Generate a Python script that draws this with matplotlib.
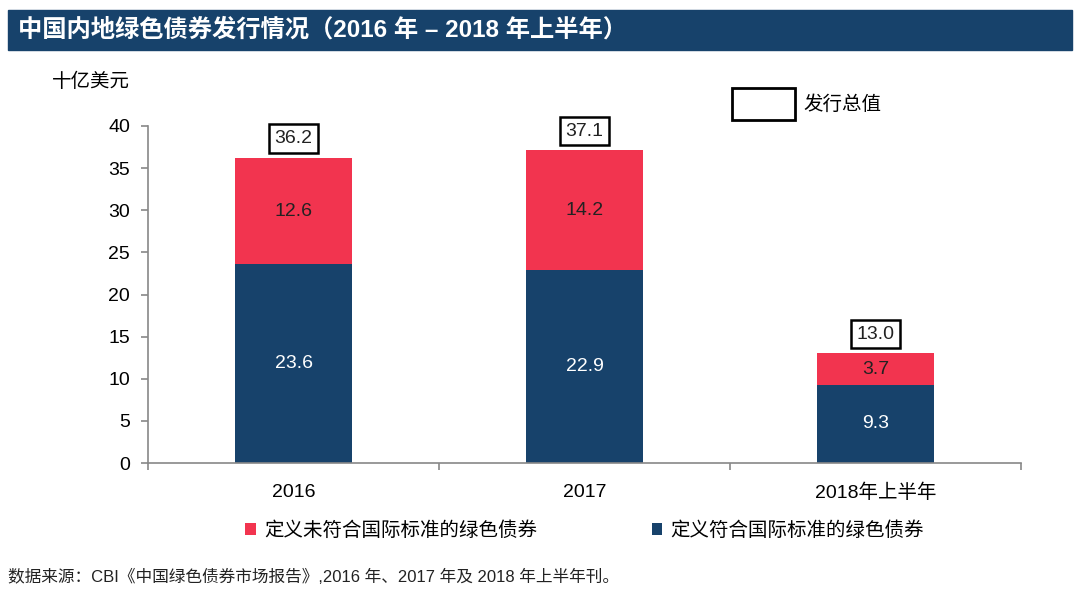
import numpy as np
import matplotlib.pyplot as plt
from matplotlib.patches import Rectangle

plt.rcParams['font.family'] = ['Liberation Sans', 'Noto Sans CJK SC', 'DejaVu Sans']

categories = ["2016", "2017", "2018年上半年"]
compliant = [23.6, 22.9, 9.3]        # 定义符合国际标准的绿色债券
non_compliant = [12.6, 14.2, 3.7]    # 定义未符合国际标准的绿色债券
totals = [36.2, 37.1, 13.0]

navy = "#17426b"
red = "#f2344f"

fig = plt.figure(figsize=(10.8, 5.95), dpi=100)
ax = fig.add_axes([148 / 1080, 1 - 463 / 595, 873 / 1080, 337 / 595])

x = np.arange(len(categories))
b1 = ax.bar(x, compliant, width=0.4, color=navy, label="定义符合国际标准的绿色债券")
b2 = ax.bar(x, non_compliant, width=0.4, bottom=compliant, color=red,
            label="定义未符合国际标准的绿色债券")

for i in range(len(categories)):
    ax.text(x[i], compliant[i] / 2, f"{compliant[i]:.1f}", ha="center", va="center",
            color="white", fontsize=14)
    ax.text(x[i], compliant[i] + non_compliant[i] / 2, f"{non_compliant[i]:.1f}",
            ha="center", va="center", color="#222222", fontsize=14)
    ax.text(x[i], totals[i] + 2.3, f"{totals[i]:.1f}", ha="center", va="center",
            fontsize=14, color="#222222",
            bbox=dict(boxstyle="square,pad=0.3", fc="white", ec="black", lw=1.8))

ax.set_xlim(-0.5, 2.5)
ax.set_ylim(0, 40)
ax.set_yticks(range(0, 41, 5))
ax.set_xticks(x)
ax.set_xticklabels(categories)
ax.set_xticks([-0.5, 0.5, 1.5, 2.5], minor=True)
ax.tick_params(axis="x", which="major", length=0, pad=15, labelsize=14)
ax.tick_params(axis="x", which="minor", length=5, color="#888888", width=1.2)
ax.tick_params(axis="y", length=5, color="#888888", width=1.2, labelsize=14, pad=8)
for s in ["top", "right"]:
    ax.spines[s].set_visible(False)
for s in ["left", "bottom"]:
    ax.spines[s].set_color("#888888")
    ax.spines[s].set_linewidth(1.2)

# title bar
fig.patches.append(Rectangle((8 / 1080, 1 - 50 / 595), 1064 / 1080, 40 / 595,
                             transform=fig.transFigure, color=navy, zorder=0))
fig.text(18 / 1080, 1 - 30 / 595, "中国内地绿色债券发行情况（2016 年 – 2018 年上半年）",
         color="white", fontsize=17.5, fontweight="bold", va="center")

fig.text(52 / 1080, 1 - 82 / 595, "十亿美元", fontsize=14, va="center")

# total value legend
fig.patches.append(Rectangle((732 / 1080, 1 - 120 / 595), 63 / 1080, 32 / 595,
                             transform=fig.transFigure, fc="white", ec="black", lw=2))
fig.text(803 / 1080, 1 - 105 / 595, "发行总值", fontsize=14, va="center")

ax.legend(handles=[b2, b1], ncol=2, loc="center", bbox_to_anchor=(0.5, -0.2),
          frameon=False, fontsize=14, handlelength=0.55, handleheight=0.55,
          handletextpad=0.4, columnspacing=5.9)

fig.text(8 / 1080, 1 - 577 / 595,
         "数据来源：CBI《中国绿色债券市场报告》,2016 年、2017 年及 2018 年上半年刊。",
         fontsize=12, va="center", color="#222222")

fig.savefig("out.png", dpi=100)
